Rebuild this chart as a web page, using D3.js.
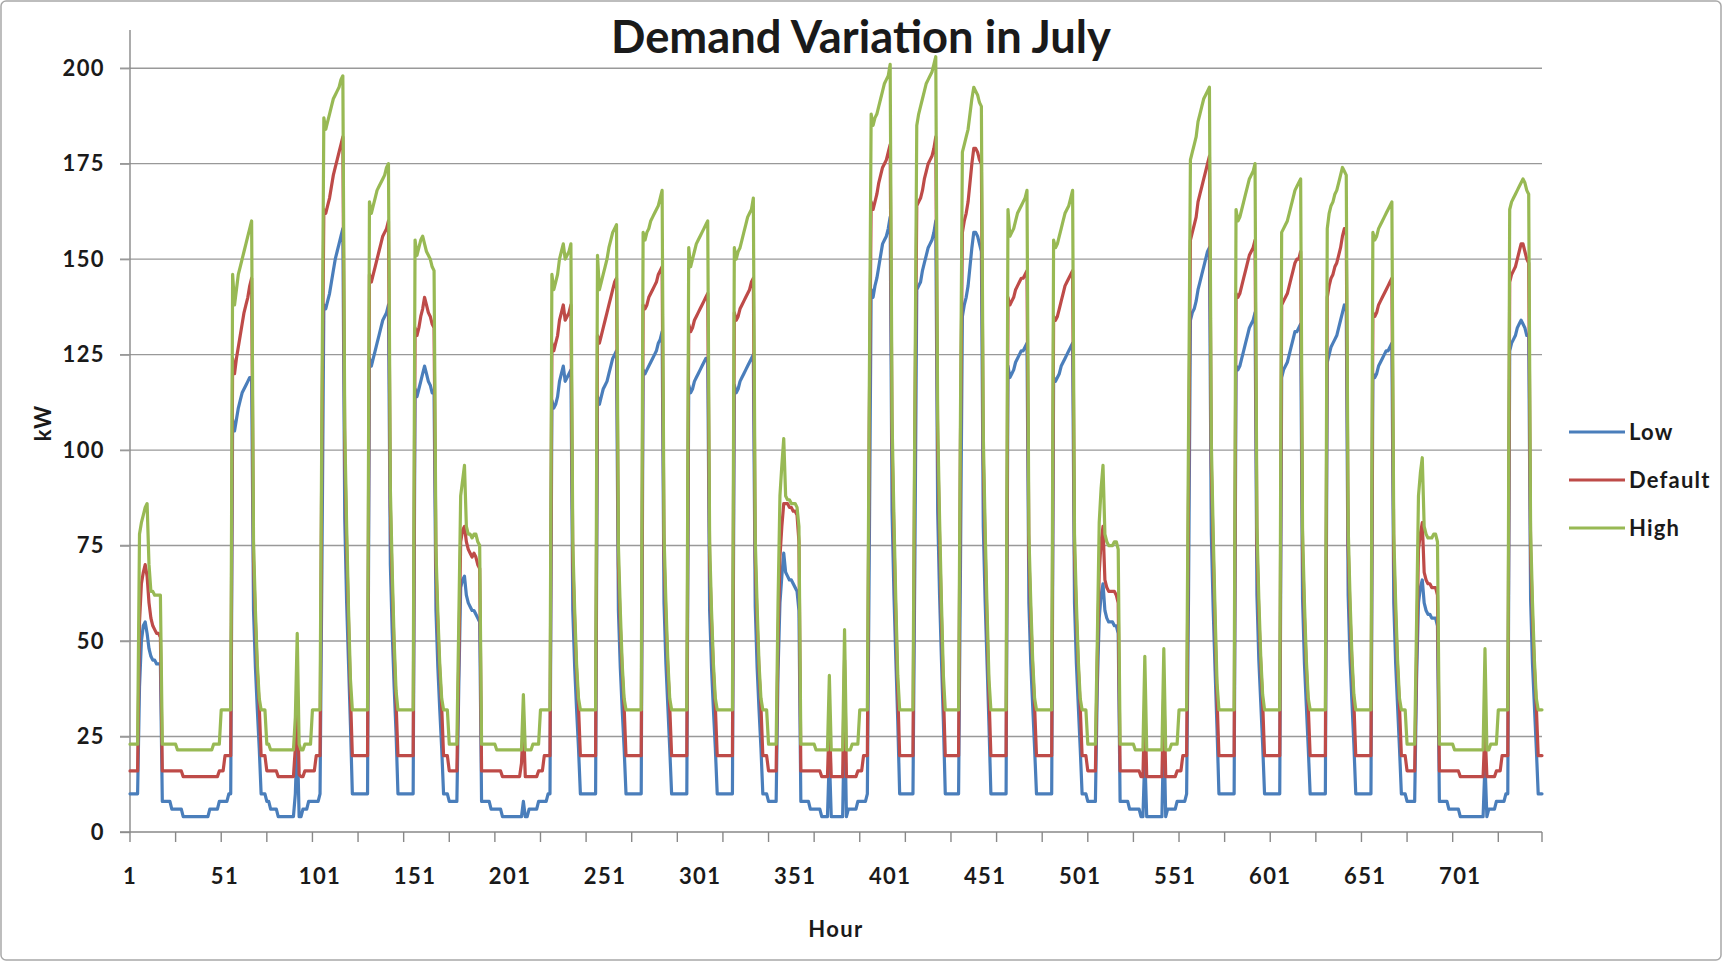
<!DOCTYPE html>
<html><head><meta charset="utf-8">
<script src="https://cdn.jsdelivr.net/npm/d3@7"></script>
<style>
html,body{margin:0;padding:0;background:#fff;}
svg{display:block;}
text{font-family:Lato,"Open Sans","DejaVu Sans",sans-serif;font-weight:700;fill:#1a1a1a;}
</style>
</head><body>
<svg id="chart" width="1723" height="962"></svg>
<script>
const chartTitle = "Demand Variation in July";
const xAxisTitle = "Hour";
const yAxisTitle = "kW";
const seriesNames = ["Low", "Default", "High"];
const seriesColors = ["#4a7ebb", "#be4b48", "#98b954"];
const yTicks = [0, 25, 50, 75, 100, 125, 150, 175, 200];
const xTickLabels = [1, 51, 101, 151, 201, 251, 301, 351, 401, 451, 501, 551, 601, 651, 701];

// hourly values, one row per day of July (24 hours each)
const lowByDay = [
[10,10,10,10,10,38,50,54,55,52,48,46,45,45,44,44,44,8,8,8,8,8,6,6],
[6,6,6,6,4,4,4,4,4,4,4,4,4,4,4,4,4,4,6,6,6,6,6,8],
[8,8,8,8,10,10,108,105,108,111,113,115,116,117,118,119,119,58,43,32,22,10,10,10],
[8,8,6,6,6,6,4,4,4,4,4,4,4,4,4,10,25,4,4,6,6,6,8,8],
[8,8,8,8,10,70,138,137,139,141,144,147,150,152,154,156,158,82,60,44,28,10,10,10],
[10,10,10,10,10,10,124,122,124,126,128,130,132,134,135,136,138,70,52,38,26,10,10,10],
[10,10,10,10,10,10,116,114,116,118,120,122,120,118,117,115,115,58,43,32,22,10,10,10],
[8,8,8,8,8,38,64,66,67,62,60,59,58,58,57,56,55,8,8,8,8,8,6,6],
[6,6,6,6,4,4,4,4,4,4,4,4,4,4,4,8,4,4,6,6,6,6,6,8],
[8,8,8,8,10,10,113,111,112,114,118,120,122,118,119,120,121,58,43,32,22,10,10,10],
[10,10,10,10,10,10,114,112,114,116,117,118,120,122,124,125,126,58,43,32,22,10,10,10],
[10,10,10,10,10,10,121,120,121,122,123,124,125,126,128,129,131,60,44,33,22,10,10,10],
[10,10,10,10,10,10,117,115,116,118,119,120,121,122,123,124,124,58,43,32,22,10,10,10],
[10,10,10,10,10,10,117,115,116,118,119,120,121,122,123,124,125,59,43,32,22,10,10,10],
[8,8,8,8,8,42,60,67,73,68,67,66,66,65,64,63,58,8,8,8,8,8,6,6],
[6,6,6,6,4,4,4,4,20,4,4,4,4,4,4,4,32,4,6,6,6,6,6,8],
[8,8,8,8,10,72,142,140,143,145,148,151,154,155,156,158,161,84,62,45,29,10,10,10],
[10,10,10,10,10,71,142,143,144,147,149,151,153,154,155,157,160,84,62,45,29,10,10,10],
[10,10,10,10,10,70,135,138,140,143,148,153,157,157,156,154,152,80,60,44,28,10,10,10],
[10,10,10,10,10,10,122,119,120,121,123,124,125,126,126,127,128,60,44,33,22,10,10,10],
[10,10,10,10,10,10,119,118,119,120,122,123,124,125,126,127,128,60,44,33,22,10,10,10],
[8,8,8,8,8,38,56,62,65,58,56,55,55,55,54,54,52,8,8,8,8,8,6,6],
[6,6,6,6,4,4,20,4,4,4,4,4,4,4,4,4,28,4,6,6,6,6,6,8],
[8,8,8,8,10,62,134,136,137,139,142,144,146,148,150,152,153,78,58,42,27,10,10,10],
[10,10,10,10,10,10,122,121,122,124,126,128,130,132,133,134,136,62,45,34,23,10,10,10],
[10,10,10,10,10,10,119,121,122,123,125,127,129,131,131,132,133,61,44,33,22,10,10,10],
[10,10,10,10,10,10,123,125,127,128,129,130,132,134,136,138,137,62,45,34,23,10,10,10],
[10,10,10,10,10,10,120,119,120,122,123,124,125,126,126,127,128,60,44,33,22,10,10,10],
[8,8,8,8,8,40,60,64,66,60,58,57,57,56,56,56,54,8,8,8,8,8,6,6],
[6,6,6,6,4,4,4,4,4,4,4,4,4,4,4,4,4,18,4,6,6,6,6,8],
[8,8,8,8,10,10,126,128,129,130,132,133,134,133,132,130,130,61,44,33,22,10,10,10]
];

const defaultByDay = [
[16,16,16,16,16,55,65,68,70,67,60,56,54,53,52,52,51,16,16,16,16,16,16,16],
[16,16,16,16,14.5,14.5,14.5,14.5,14.5,14.5,14.5,14.5,14.5,14.5,14.5,14.5,14.5,14.5,14.5,14.5,14.5,14.5,14.5,16],
[16,16,20,20,20,20,124,120,124,127,130,133,136,138,140,143,145,71,55,42,33,20,20,20],
[16,16,16,16,16,16,14.5,14.5,14.5,14.5,14.5,14.5,14.5,14.5,14.5,22,38,15,14.5,14.5,16,16,16,16],
[16,16,20,20,20,104,163,162,164,166,169,172,174,176,178,180,182,100,75,55,36,20,20,20],
[20,20,20,20,20,20,146,144,146,148,150,152,154,156,157,158,160,85,64,47,34,20,20,20],
[20,20,20,20,20,20,132,130,132,135,137,140,138,136,135,133,132,70,54,42,33,20,20,20],
[16,16,16,16,16,45,76,79,80,76,74,73,72,73,72,70,69,16,16,16,16,16,16,16],
[16,16,16,16,14.5,14.5,14.5,14.5,14.5,14.5,14.5,14.5,14.5,14.5,18,29,14.5,14.5,14.5,14.5,14.5,14.5,14.5,16],
[16,16,20,20,20,20,128,126,128,130,134,136,138,134,135,136,138,71,55,42,33,20,20,20],
[20,20,20,20,20,20,130,128,130,132,134,136,138,140,142,144,145,70,54,42,33,20,20,20],
[20,20,20,20,20,20,138,137,138,140,141,142,143,144,146,147,148,73,56,43,33,20,20,20],
[20,20,20,20,20,20,133,131,132,134,135,136,137,138,139,140,141,71,55,42,33,20,20,20],
[20,20,20,20,20,20,136,134,135,137,138,139,140,141,142,144,145,72,55,42,33,20,20,20],
[16,16,16,16,16,50,72,80,86,86,86,85,85,84,84,83,76,16,16,16,16,16,16,16],
[16,16,16,16,14.5,14.5,14.5,14.5,30,14.5,14.5,14.5,14.5,14.5,14.5,14.5,45,14.5,14.5,14.5,14.5,14.5,14.5,16],
[16,16,20,20,20,106,165,163,165,167,170,172,174,175,176,178,180,102,77,56,37,20,20,20],
[20,20,20,20,20,105,164,165,166,168,171,173,175,176,177,179,182,102,77,56,37,20,20,20],
[20,20,20,20,20,103,157,160,162,165,170,175,179,179,178,176,175,98,74,54,36,20,20,20],
[20,20,20,20,20,20,140,138,139,140,142,143,144,145,145,146,147,73,56,43,33,20,20,20],
[20,20,20,20,20,20,135,134,135,137,139,141,143,144,145,146,147,73,56,43,33,20,20,20],
[16,16,16,16,16,45,68,76,80,66,64,63,63,63,63,62,60,16,16,16,16,16,16,16],
[16,16,16,16,14.5,14.5,35,14.5,14.5,14.5,14.5,14.5,14.5,14.5,14.5,14.5,38,14.5,14.5,14.5,14.5,14.5,14.5,16],
[16,16,20,20,20,88,155,157,159,161,165,167,169,171,173,175,177,96,73,53,35,20,20,20],
[20,20,20,20,20,20,141,140,141,143,145,147,149,151,152,153,155,75,57,44,34,20,20,20],
[20,20,20,20,20,20,138,139,140,141,143,145,147,149,150,150,152,74,56,43,33,20,20,20],
[20,20,20,20,20,20,140,143,145,146,148,149,151,153,156,158,157,75,57,44,34,20,20,20],
[20,20,20,20,20,20,136,135,136,138,139,140,141,142,143,144,145,73,56,43,33,20,20,20],
[16,16,16,16,16,46,74,78,81,68,66,65,65,64,64,64,62,16,16,16,16,16,16,16],
[16,16,16,16,14.5,14.5,14.5,14.5,14.5,14.5,14.5,14.5,14.5,14.5,14.5,14.5,14.5,27,14.5,14.5,14.5,14.5,14.5,16],
[16,16,20,20,20,20,144,146,147,148,150,152,154,154,152,150,149,74,56,43,33,20,20,20]
];

const highByDay = [
[23,23,23,23,23,78,81,83,85,86,70,63,63,62,62,62,62,23,23,23,23,23,23,23],
[23,21.5,21.5,21.5,21.5,21.5,21.5,21.5,21.5,21.5,21.5,21.5,21.5,21.5,21.5,21.5,21.5,21.5,21.5,21.5,23,23,23,23],
[32,32,32,32,32,32,146,138,142,146,148,150,152,154,156,158,160,76,58,44,35,32,32,32],
[23,23,21.5,21.5,21.5,21.5,21.5,21.5,21.5,21.5,21.5,21.5,21.5,21.5,21.5,30,52,23,21.5,21.5,23,23,23,23],
[32,32,32,32,32,112,187,184,186,188,190,192,193,194,195,197,198,106,80,58,40,32,32,32],
[32,32,32,32,32,32,165,162,164,166,168,169,170,171,172,174,175,90,68,50,37,32,32,32],
[32,32,32,32,32,32,155,151,153,155,156,154,152,151,150,148,147,74,57,44,35,32,32,32],
[23,23,23,23,23,55,88,92,96,80,78,78,77,78,78,76,75,23,23,23,23,23,23,23],
[23,21.5,21.5,21.5,21.5,21.5,21.5,21.5,21.5,21.5,21.5,21.5,21.5,21.5,21.5,36,21.5,21.5,21.5,21.5,23,23,23,23],
[32,32,32,32,32,32,146,142,144,146,150,152,154,150,151,152,154,76,58,44,35,32,32,32],
[32,32,32,32,32,32,151,142,144,146,148,150,153,155,157,158,159,75,58,44,35,32,32,32],
[32,32,32,32,32,32,157,155,157,158,160,161,162,163,164,166,168,78,60,45,35,32,32,32],
[32,32,32,32,32,32,153,148,150,152,154,155,156,157,158,159,160,76,58,44,35,32,32,32],
[32,32,32,32,32,32,153,150,152,153,155,157,159,161,162,163,166,77,59,44,35,32,32,32],
[23,23,23,23,23,60,88,96,103,88,87,87,86,86,86,85,80,23,23,23,23,23,23,23],
[23,21.5,21.5,21.5,21.5,21.5,21.5,21.5,41,21.5,21.5,21.5,21.5,21.5,21.5,21.5,53,21.5,21.5,21.5,23,23,23,23],
[32,32,32,32,32,114,188,185,187,188,190,192,194,196,197,198,201,108,82,60,41,32,32,32],
[32,32,32,32,32,112,185,188,190,192,194,196,197,198,199,201,203,108,82,60,41,32,32,32],
[32,32,32,32,32,110,178,180,182,184,188,192,195,194,193,191,190,104,79,58,40,32,32,32],
[32,32,32,32,32,32,163,156,157,158,160,162,163,164,165,166,168,78,60,45,35,32,32,32],
[32,32,32,32,32,32,155,153,154,156,158,160,162,163,164,166,168,78,60,45,35,32,32,32],
[23,23,23,23,23,50,81,90,96,78,76,75,75,75,76,76,74,23,23,23,23,23,23,23],
[23,21.5,21.5,21.5,21.5,21.5,46,21.5,21.5,21.5,21.5,21.5,21.5,21.5,21.5,21.5,48,21.5,21.5,21.5,23,23,23,23],
[32,32,32,32,32,105,176,178,180,182,186,188,190,192,193,194,195,102,78,57,39,32,32,32],
[32,32,32,32,32,32,163,160,161,163,165,167,169,171,172,173,175,80,61,46,36,32,32,32],
[32,32,32,32,32,32,157,158,159,160,162,164,166,168,169,170,171,79,60,45,35,32,32,32],
[32,32,32,32,32,32,158,162,164,165,167,168,170,172,174,173,172,80,61,46,36,32,32,32],
[32,32,32,32,32,32,157,155,156,158,159,160,161,162,163,164,165,78,60,45,35,32,32,32],
[23,23,23,23,23,55,88,94,98,80,78,77,77,77,78,78,76,23,23,23,23,23,23,23],
[23,21.5,21.5,21.5,21.5,21.5,21.5,21.5,21.5,21.5,21.5,21.5,21.5,21.5,21.5,21.5,21.5,48,21.5,21.5,23,23,23,23],
[32,32,32,32,32,32,163,165,166,167,168,169,170,171,170,168,167,79,60,45,35,32,32,32]
];

[lowByDay, defaultByDay, highByDay].forEach((s, k) => s.forEach((d, i) => {
  if (d.length !== 24) throw new Error("series " + k + " day " + (i + 1) + " has " + d.length + " values");
}));

const seriesValues = [lowByDay.flat(), defaultByDay.flat(), highByDay.flat()];
const nHours = seriesValues[0].length;

const svg = d3.select("#chart");
const W = 1723, H = 962;
const plotLeft = 130, plotRight = 1542, plotTop = 30, plotBottom = 832;

svg.append("rect").attr("x", 0).attr("y", 0).attr("width", W).attr("height", H).attr("fill", "#fff");
svg.append("rect").attr("x", 1).attr("y", 1).attr("width", W - 3).attr("height", H - 3)
  .attr("rx", 5).attr("fill", "none").attr("stroke", "#a8a8a8").attr("stroke-width", 1.5);

const x = d3.scaleLinear().domain([1, nHours]).range([plotLeft, plotRight]);
const y = d3.scaleLinear().domain([0, 210]).range([plotBottom, plotTop]);

// gridlines
svg.append("g").selectAll("line").data(yTicks.filter(t => t > 0)).join("line")
  .attr("x1", plotLeft - 10).attr("x2", plotRight)
  .attr("y1", d => y(d)).attr("y2", d => y(d))
  .attr("stroke", "#999").attr("stroke-width", 1.4);

// y axis
const yAxis = svg.append("g").attr("transform", `translate(${plotLeft},0)`)
  .call(d3.axisLeft(y).tickValues(yTicks).tickSize(10).tickPadding(15).tickSizeOuter(0));
yAxis.select(".domain").attr("stroke", "#888").attr("stroke-width", 1.4).attr("d", `M0,${plotTop}V${plotBottom}`);
yAxis.selectAll(".tick line").attr("stroke", "#999").attr("stroke-width", 1.4);
yAxis.selectAll(".tick text").attr("font-size", 22).attr("fill", "#1a1a1a")
  .attr("letter-spacing", 1.4)
  .attr("font-family", "Lato,'Open Sans',sans-serif").attr("font-weight", 700);

// x axis: tick marks every 24 hours, labels every 50
const dayTicks = d3.range(1, nHours + 1, 24).concat([nHours]);
const xAxisG = svg.append("g").attr("transform", `translate(0,${plotBottom})`);
xAxisG.append("line").attr("x1", plotLeft - 10).attr("x2", plotRight).attr("y1", 0).attr("y2", 0)
  .attr("stroke", "#888").attr("stroke-width", 1.4);
xAxisG.selectAll("line.tk").data(dayTicks).join("line").attr("class", "tk")
  .attr("x1", d => x(d)).attr("x2", d => x(d)).attr("y1", 0).attr("y2", 10)
  .attr("stroke", "#888").attr("stroke-width", 1.4);
xAxisG.selectAll("text").data(xTickLabels).join("text")
  .attr("x", d => x(d)).attr("y", 52).attr("text-anchor", "middle")
  .attr("font-size", 22).attr("letter-spacing", 1.4).text(d => d);

// series
const lineGen = d3.line().x((d, i) => x(i + 1)).y(d => y(d)).curve(d3.curveLinear);
svg.append("g").selectAll("path").data(seriesValues).join("path")
  .attr("d", lineGen).attr("fill", "none")
  .attr("stroke", (d, i) => seriesColors[i]).attr("stroke-width", 3.2)
  .attr("stroke-linejoin", "round").attr("stroke-linecap", "round");

// title
const titleEl = svg.append("text").attr("x", 861).attr("y", 53).attr("text-anchor", "middle")
  .attr("font-size", 40).text(chartTitle);
const tw = titleEl.node().getComputedTextLength();
titleEl.attr("font-size", 40 * 500 / tw);

// axis titles
svg.append("text").attr("x", 836).attr("y", 937).attr("text-anchor", "middle")
  .attr("font-size", 22).attr("letter-spacing", 1.4).text(xAxisTitle);
svg.append("text").attr("transform", "translate(51,423) rotate(-90)").attr("text-anchor", "middle")
  .attr("font-size", 22).attr("letter-spacing", 1).text(yAxisTitle);

// legend
const legend = svg.append("g").selectAll("g").data(seriesNames).join("g")
  .attr("transform", (d, i) => `translate(1569,${432 + i * 48})`);
legend.append("line").attr("x1", 0).attr("x2", 56).attr("y1", 0).attr("y2", 0)
  .attr("stroke", (d, i) => seriesColors[i]).attr("stroke-width", 3.2);
legend.append("text").attr("x", 60).attr("y", 8).attr("font-size", 22).attr("letter-spacing", 1.2).text(d => d);
</script>
</body></html>
